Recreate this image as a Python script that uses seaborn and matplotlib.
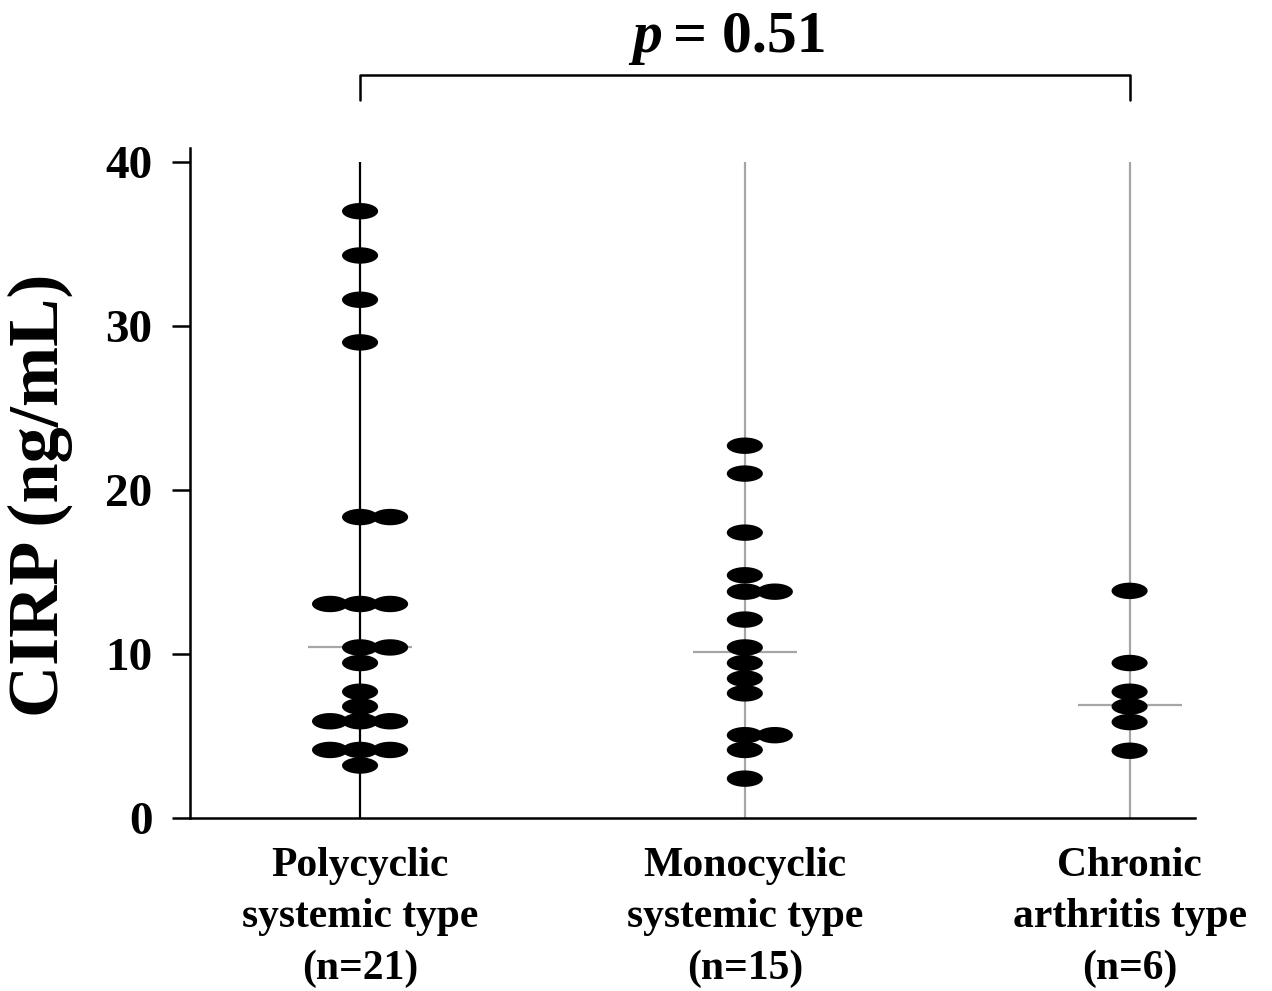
import numpy as np
import pandas as pd
import matplotlib
matplotlib.use("Agg")
import matplotlib.pyplot as plt
import matplotlib.transforms as mtransforms
import seaborn as sns

# ---------------- data ----------------
categories = ["Polycyclic\nsystemic type\n(n=21)",
              "Monocyclic\nsystemic type\n(n=15)",
              "Chronic\narthritis type\n(n=6)"]
polycyclic = [37.0, 34.3, 31.6, 29.0, 18.35, 18.35, 13.05, 13.05, 13.05,
              10.4, 10.4, 9.45, 7.7, 6.8, 5.9, 5.9, 5.9, 4.15, 4.15, 4.15, 3.2]
monocyclic = [22.7, 21.0, 17.4, 14.8, 13.8, 13.8, 12.1, 10.4, 9.45, 8.5,
              7.6, 5.05, 5.05, 4.15, 2.4]
chronic = [13.85, 9.45, 7.7, 6.8, 5.85, 4.1]
medians = [10.4, 10.1, 6.9]
y_ticks = [0, 10, 20, 30, 40]
y_label = "CIRP (ng/mL)"
p_value = "0.51"

groups = [polycyclic, monocyclic, chronic]

# ---------------- layout ----------------
sns.set_theme(style="white")
SERIF = ["Liberation Serif", "DejaVu Serif"]
plt.rcParams["font.family"] = SERIF
plt.rcParams["text.color"] = "black"
plt.rcParams["xtick.color"] = "black"
plt.rcParams["ytick.color"] = "black"
plt.rcParams["axes.labelcolor"] = "black"

W, H = 1272, 991
fig = plt.figure(figsize=(W / 100, H / 100), dpi=100)
ax_l, ax_r, ax_b, ax_t = 190, 1195, 818, 148
ax = fig.add_axes([ax_l / W, 1 - ax_b / H, (ax_r - ax_l) / W, (ax_b - ax_t) / H])

# duplicate values spread: centre, right, left
step = 0.078
order = [0, 1, -1, 2, -2]
rows = []
for gi, vals in enumerate(groups):
    seen = {}
    for v in vals:
        k = seen.get(v, 0)
        seen[v] = k + 1
        rows.append({"x": gi + order[k] * step, "value": v, "group": gi})
df = pd.DataFrame(rows)

# vertical guide lines
line_colors = ["black", "#a6a6a6", "#a6a6a6"]
for gi in range(len(categories)):
    ax.vlines(gi, 0, max(y_ticks), color=line_colors[gi], lw=1.6, zorder=1)

# median lines
ax.hlines(medians, np.arange(len(categories)) - 0.135,
          np.arange(len(categories)) + 0.135, color="#a6a6a6", lw=1.6, zorder=1)

# ellipse marker
t = np.linspace(0, 2 * np.pi, 60)
ellipse = np.column_stack([np.cos(t), np.sin(t) / 2.2])
sns.scatterplot(data=df, x="x", y="value", marker=ellipse, s=26 ** 2,
                color="black", edgecolor="none", linewidth=0, ax=ax, zorder=3,
                legend=False)

ax.set_xlim(-0.442, 2.17)
ax.set_ylim(0, (ax_b - ax_t) / 16.4)
ax.set_xticks(range(len(categories)))
ax.set_xticklabels(categories, fontsize=30, fontweight="bold", linespacing=1.45)
ax.set_yticks(y_ticks)
ax.set_yticklabels([str(v) for v in y_ticks], fontsize=34, fontweight="bold")
ax.tick_params(axis="x", length=0, pad=21)
ax.tick_params(axis="y", length=13, width=1.8, color="black", pad=14, left=True)
ax.set_xlabel("")
ax.set_ylabel("")
for side in ["top", "right"]:
    ax.spines[side].set_visible(False)
for side in ["left", "bottom"]:
    ax.spines[side].set_color("black")
    ax.spines[side].set_linewidth(1.8)
ax.spines["left"].set_bounds(0, (ax_b - ax_t) / 16.4)

# y label
fig.text(40 / W, 1 - 495 / H, y_label, rotation=90, ha="center", va="center",
         fontsize=52, fontweight="bold")

# significance bracket
trans = mtransforms.blended_transform_factory(ax.transData, fig.transFigure)
y_top, y_bot = 1 - 75 / H, 1 - 100 / H
ax.plot([0, 0, 2, 2], [y_bot, y_top, y_top, y_bot], transform=trans,
        color="black", lw=1.8, clip_on=False)
fig.text(662 / W, 1 - 52 / H, "p", ha="right", va="baseline", fontsize=43,
         fontweight="bold", fontstyle="italic")
fig.text(673 / W, 1 - 52 / H, "= " + p_value, ha="left", va="baseline",
         fontsize=43, fontweight="bold")

fig.savefig("out.png", dpi=100)
